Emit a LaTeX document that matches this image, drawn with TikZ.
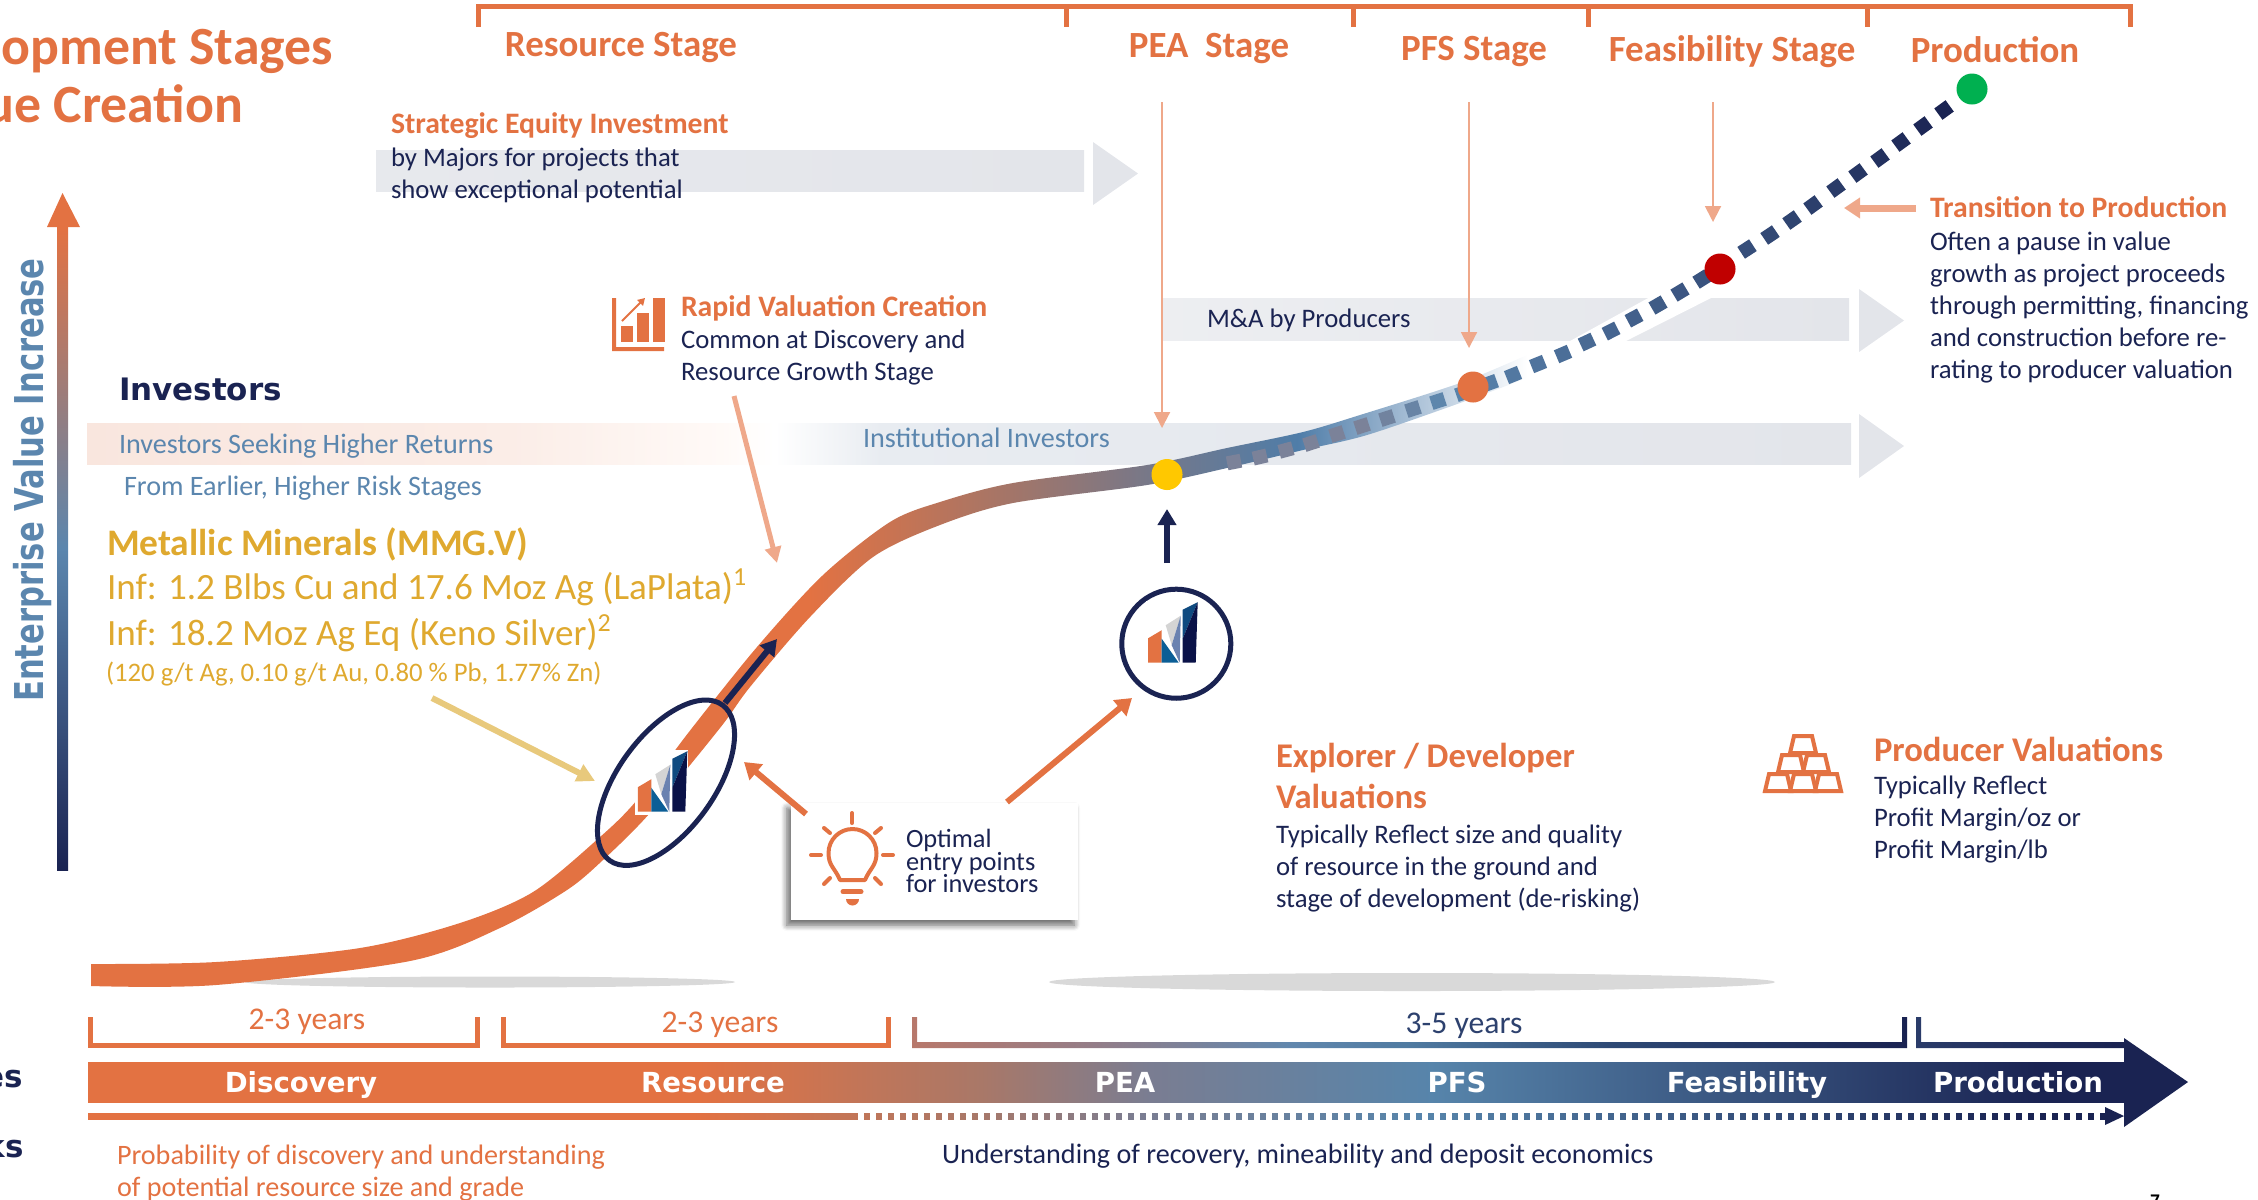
\documentclass[tikz,border=0pt]{standalone}
\usepackage{fontspec}
\setmainfont{Carlito}
\newfontfamily\widefont{DejaVu Sans}
\usetikzlibrary{arrows.meta,shapes.geometric,shadows.blur}
\definecolor{oreorange}{HTML}{E37242}
\definecolor{orepale}{HTML}{EFA88A}
\definecolor{oregold}{HTML}{DFA92F}
\definecolor{goldpale}{HTML}{E8C97C}
\definecolor{navyink}{HTML}{1A2352}
\definecolor{steelink}{HTML}{5B86AE}
\definecolor{bandgrey}{HTML}{E3E5EA}
\definecolor{dashgrey}{HTML}{7B8299}
\definecolor{peagold}{HTML}{FFC800}
\definecolor{feasred}{HTML}{C00000}
\definecolor{prodgreen}{HTML}{00B050}
\definecolor{logoblue}{HTML}{0B5E96}
\definecolor{logomid}{HTML}{6A82B0}
\definecolor{logotop}{HTML}{0F4A80}
\definecolor{logonavy}{HTML}{0A1248}
\newcommand{\tightlines}{\lineskiplimit=-6pt\relax}
\pgfdeclarehorizontalshading{curvefade}{100bp}{color(0bp)=(oreorange); color(50bp)=(oreorange); rgb(57bp)=(0.64,0.46,0.41); rgb(62bp)=(0.46,0.47,0.54); rgb(67bp)=(0.31,0.49,0.66); rgb(71bp)=(0.66,0.75,0.84); color(75bp)=(white); color(100bp)=(white)}
\pgfdeclarehorizontalshading{barfade}{100bp}{color(0bp)=(oreorange); color(40bp)=(oreorange); rgb(47bp)=(0.66,0.47,0.41); rgb(51bp)=(0.48,0.49,0.57); rgb(58bp)=(0.34,0.52,0.67); color(73bp)=(navyink); color(100bp)=(navyink)}
\pgfdeclarehorizontalshading{yearsfade}{100bp}{rgb(0bp)=(0.72,0.47,0.42); rgb(25bp)=(0.72,0.47,0.42); rgb(34bp)=(0.58,0.49,0.53); rgb(44bp)=(0.38,0.53,0.68); rgb(50bp)=(0.31,0.48,0.63); rgb(60bp)=(0.18,0.29,0.46); color(75bp)=(navyink); color(100bp)=(navyink)}
\pgfdeclarehorizontalshading{seekfade}{100bp}{rgb(0bp)=(0.976,0.902,0.871); rgb(25bp)=(0.976,0.902,0.871); rgb(37bp)=(0.984,0.929,0.906); rgb(43bp)=(1,0.98,0.97); color(44.5bp)=(white); rgb(47.5bp)=(0.91,0.925,0.945); color(75bp)=(bandgrey); color(100bp)=(bandgrey)}
\tikzset{
  txt/.style={inner sep=0pt, outer sep=0pt, anchor=west, align=left},
  bodytext/.style={txt, text=navyink, font=\fontsize{7.6}{9.1}\selectfont},
  softtext/.style={txt, font=\fontsize{8}{9.1}\selectfont},
  headtext/.style={txt, text=oreorange, font=\fontsize{8.45}{9.1}\bfseries\selectfont},
  stagetext/.style={txt, anchor=center, text=oreorange, font=\fontsize{10.5}{12}\bfseries\selectfont},
  valuetext/.style={txt, text=oreorange, font=\fontsize{9.85}{11.6}\bfseries\selectfont},
  goldtext/.style={txt, text=oregold, font=\fontsize{10.55}{12}\selectfont},
  bartext/.style={txt, anchor=base, text=white, font=\fontsize{7.85}{9}\widefont\bfseries\selectfont},
  yearstext/.style={txt, anchor=center, font=\fontsize{9}{11}\selectfont},
  stagedot/.style={circle, minimum size=0.31cm, inner sep=0pt},
  ptr/.style={draw=orepale, line width=0.02cm, -{Triangle[length=0.16cm,width=0.16cm]}},
  thickptr/.style={draw=oreorange, line width=0.06cm, -{Triangle[length=0.16cm,width=0.2cm]}},
  navyptr/.style={draw=navyink, line width=0.06cm, -{Triangle[length=0.16cm,width=0.18cm]}},
  mmglogo/.pic={
    \fill[white] (-27,-32) rectangle (26,33);
    \fill[oreorange] (-24.5,5.5) -- (-11,-2.5) -- (-11,30) -- (-24.5,30) -- cycle;
    \fill[black!17] (-7,-7.5) -- (8,-17) -- (-1,12.5) -- cycle;
    \fill[logoblue] (-11,6) -- (-11,30) -- (6,30) -- cycle;
    \fill[logomid] (8,-17) -- (7,30) -- (-1,12.5) -- cycle;
    \fill[logotop] (10,-23) -- (25,-30.5) -- (10,6) -- cycle;
    \fill[logonavy] (25,-30.5) -- (23,30) -- (10,30) -- (10,6) -- cycle;
  }
}
\begin{document}
\begin{tikzpicture}[x=0.01cm, y=-0.01cm]
  \useasboundingbox (0,0) rectangle (2258,1199);
  \clip (0,0) rectangle (2258,1199);

  % stages along the top
  \draw[oreorange, line width=0.05cm] (478,27) -- (478,6.5) -- (2130,6.5) -- (2130,27);
  \foreach \tx in {1066,1353,1588,1867}{
    \draw[oreorange, line width=0.05cm] (\tx,6.5) -- (\tx,27);
  }
  \node[stagetext] (resourcestage) at (621,48) {Resource Stage};
  \node[stagetext] (peastage) at (1209,49) {PEA\ \ Stage};
  \node[stagetext] (pfsstage) at (1474,52) {PFS Stage};
  \node[stagetext] (feasstage) at (1732,52) {Feasibility Stage};
  \node[stagetext] (prodstage) at (1995,50) {Production};

  \node[txt, anchor=east, text=oreorange, font=\fontsize{15.3}{17}\bfseries\selectfont] (titlea) at (333,51) {opment Stages};
  \node[txt, anchor=east, text=oreorange, font=\fontsize{15.3}{17}\bfseries\selectfont] (titleb) at (243,104) {ue Creation};

  % bands
  \shade[left color=bandgrey!85!white, right color=bandgrey] (376,150) rectangle (1084,191);
  \fill[bandgrey] (1093,142) -- (1138,173.5) -- (1093,205) -- cycle;
  \shade[left color=bandgrey!65!white, right color=bandgrey] (1162,298) rectangle (1849,340);
  \fill[bandgrey] (1859,289) -- (1904,320.5) -- (1859,352) -- cycle;
  \shade[shading=seekfade] (87,423) rectangle (1851,464);
  \fill[bandgrey] (1859,414) -- (1904,446) -- (1859,478) -- cycle;
  \fill[white] (1570,341) -- (1626,341) -- (1713,297) -- (1650,297) -- cycle;

  \fill[black!15] (490,982) ellipse [x radius=245, y radius=5.5];
  \fill[black!15] (1412,982) ellipse [x radius=363, y radius=9];

  % value curve
  \shade[shading=curvefade] plot[smooth] coordinates {(91,964) (216,962) (360,948) (460,923) (533,892) (600,837) (637,800) (692,728) (757,647) (823,575) (890,522) (940,502) (1013,483) (1147,465) (1227,448) (1303,432) (1360,415) (1460,383) (1527,355)}
    -- plot[smooth] coordinates {(1527,378) (1460,403) (1367,435) (1303,450) (1227,468) (1147,485) (1013,503) (940,525) (873,557) (810,617) (750,687) (720,728) (650,813) (603,860) (567,890) (500,928) (410,961) (216,985) (91,986)} -- cycle;
  \foreach \dx/\dy/\da [count=\n] in {1234/462/11,1260/457/13,1286/450/15,1311/443/18,1337/434/18,1362/426/18,1387/418/18,1413/409/18,1438/401/18,1463/393/19,1490/383/20,1513/375/22,1538/364/22,1563/354/23,1587/342/25,1611/331/27,1634/318/28,1658/305/30,1680/292/31,1702/279/32,1747/249/33,1770/235/34,1792/220/35,1813/205/36,1836/188/36,1858/173/36,1880/158/36,1901/142/36,1923/126/36,1944/110/36}{
    \pgfmathtruncatemacro{\mixa}{max(0,min(100,(\n-6)*30))}
    \pgfmathtruncatemacro{\mixb}{max(0,(\n-9)*4.8)}
    \colorlet{dashtone}{steelink!\mixa!dashgrey}
    \colorlet{dashtone}{navyink!\mixb!dashtone}
    \fill[dashtone, rotate around={\da:(\dx,\dy)}] (\dx-7,\dy-7) rectangle (\dx+7,\dy+7);
  }

  \node[stagedot, fill=peagold] (peadot) at (1167,474.5) {};
  \node[stagedot, fill=oreorange] (pfsdot) at (1473,387) {};
  \node[stagedot, fill=feasred] (feasdot) at (1720,269) {};
  \node[stagedot, fill=prodgreen] (proddot) at (1972,89) {};

  % pointers
  \coordinate (peatop) at (1162,102);
  \coordinate (peaend) at (1162,428);
  \coordinate (pfstop) at (1469,102);
  \coordinate (pfsend) at (1469,348);
  \coordinate (feastop) at (1713,102);
  \coordinate (feasend) at (1713,222);
  \draw[ptr] (peatop) -- (peaend);
  \draw[ptr] (pfstop) -- (pfsend);
  \draw[ptr] (feastop) -- (feasend);
  \coordinate (transtail) at (1916,208);
  \coordinate (transtip) at (1844,208);
  \draw[draw=orepale, line width=0.07cm, -{Triangle[length=0.16cm,width=0.2cm]}] (transtail) -- (transtip);
  \coordinate (rapidtail) at (734,396);
  \coordinate (rapidtip) at (777,563);
  \draw[draw=orepale, line width=0.05cm, -{Triangle[length=0.16cm,width=0.16cm]}] (rapidtail) -- (rapidtip);
  \coordinate (goldtail) at (432,698);
  \coordinate (goldtip) at (595,781);
  \draw[draw=goldpale, line width=0.06cm, -{Triangle[length=0.18cm,width=0.18cm]}] (goldtail) -- (goldtip);

  % left axis
  \shade[top color=oreorange, bottom color=navyink, middle color=steelink] (57,227) rectangle (68,870);
  \fill[oreorange] (47,227) -- (62.5,193) -- (80,227) -- cycle;
  \node[txt, anchor=center, rotate=90, text=steelink, font=\fontsize{11.3}{12}\widefont\bfseries\selectfont] (valueaxis) at (33,480) {\scalebox{0.77}[1]{Enterprise Value Increase}};

  % text blocks
  \node[headtext] (strategichead) at (391,126) {Strategic Equity Investment};
  \node[bodytext] (strategicbody) at (391,175.5) {by Majors for projects that\\show exceptional potential};
  \node[headtext] (rapidhead) at (681,308) {Rapid Valuation Creation};
  \node[bodytext] (rapidbody) at (681,357.5) {Common at Discovery and\\Resource Growth Stage};
  \node[txt, text=navyink, font=\fontsize{8.8}{10}\widefont\bfseries\selectfont] (investors) at (119,389) {Investors};
  \node[softtext, text=steelink] (seekers) at (119,446) {Investors Seeking Higher Returns};
  \node[softtext, text=steelink] (earlier) at (124,488) {From Earlier, Higher Risk Stages};
  \node[softtext, text=steelink] (institutional) at (863,438) {Institutional Investors};
  \node[bodytext] (producers) at (1207,320) {M\&A by Producers};
  \node[goldtext, font=\fontsize{10.65}{12}\bfseries\selectfont] (minerals) at (107,544) {Metallic Minerals (MMG.V)};
  \node[goldtext] (laplata) at (107,587.5) {Inf: 1.2 Blbs Cu and 17.6 Moz Ag (LaPlata)\textsuperscript{1}};
  \node[goldtext] (keno) at (107,633.5) {Inf: 18.2 Moz Ag Eq (Keno Silver)\textsuperscript{2}};
  \node[goldtext, font=\fontsize{7.6}{9}\selectfont] (grades) at (106,674) {(120 g/t Ag, 0.10 g/t Au, 0.80 \% Pb, 1.77\% Zn)};
  \node[headtext] (transhead) at (1930,207) {Transition to Production};
  \node[bodytext] (transbody) at (1930,307.5) {Often a pause in value\\growth as project proceeds\\through permitting, financing\\and construction before re-\\rating to producer valuation};
  \node[valuetext] (explorerhead) at (1276,776) {Explorer / Developer\\Valuations};
  \node[bodytext] (explorerbody) at (1276,868) {Typically Reflect size and quality\\of resource in the ground and\\stage of development (de-risking)};
  \node[valuetext] (producerhead) at (1874,749) {Producer Valuations};
  \node[bodytext] (producerbody) at (1874,819) {Typically Reflect\\Profit Margin/oz or\\Profit Margin/lb};

  % chart icon
  \fill[oreorange] (612,298) -- (616,298) -- (616,347) -- (664,347) -- (664,351) -- (612,351) -- cycle;
  \fill[oreorange] (621,326) rectangle (633,342);
  \fill[oreorange] (637,313) rectangle (649,342);
  \fill[oreorange] (653,298) rectangle (665,342);
  \draw[oreorange, line width=0.02cm, -{Triangle[length=0.07cm,width=0.08cm]}] (622,321) -- (645,298);

  % gold bars
  \foreach \bx/\by in {1778/782,1803/782,1828/782,1791/763,1816/763,1803/744}{
    \draw[oreorange, line width=0.04cm, line join=miter] (\bx-13,\by+9) -- (\bx-9,\by-8) -- (\bx+9,\by-8) -- (\bx+13,\by+9) -- cycle;
  }

  % entry points
  \pic at (662.3,781.7) {mmglogo};
  \node[draw=navyink, line width=0.05cm, ellipse, minimum width=1.92cm, minimum height=0.96cm, inner sep=0pt, rotate=54] (entryring) at (666,782.7) {};
  \node[draw=navyink, line width=0.05cm, circle, minimum size=1.09cm, inner sep=0pt] (entrycircle) at (1176.3,643.7) {};
  \pic at (1172.7,632.7) {mmglogo};
  \coordinate (ringexit) at (725,703);
  \coordinate (ringtip) at (777,639);
  \draw[navyptr] (ringexit) -- (ringtip);
  \coordinate (circleexit) at (1167,563);
  \coordinate (circletip) at (1167,509);
  \draw[navyptr] (circleexit) -- (circletip);

  \node[fill=white, minimum width=2.87cm, minimum height=1.17cm, inner sep=0pt, blur shadow={shadow xshift=-0.04cm, shadow yshift=-0.05cm, shadow blur steps=6, shadow blur radius=0.06cm, shadow opacity=60}] (entrybox) at (934.5,861.5) {};
  \coordinate (boxleft) at (806,814);
  \coordinate (boxright) at (1007,802);
  \coordinate (lefttip) at (744,762);
  \coordinate (righttip) at (1132,698);
  \draw[thickptr] (boxleft) -- (lefttip);
  \draw[thickptr] (boxright) -- (righttip);
  \draw[oreorange, line width=0.04cm, line join=round] (840,880) .. controls (835,868) and (828.5,866) .. (828.5,853) arc[start angle=180, end angle=360, radius=24] .. controls (876.5,866) and (870,868) .. (865,880) -- cycle;
  \draw[oreorange, line width=0.05cm, line cap=round] (843,891.7) -- (861,891.7);
  \fill[oreorange] (846,899) -- (859,899) arc[start angle=0, end angle=180, radius=6.5] -- cycle;
  \foreach \ax/\ay/\bx/\by in {852/813/852/823,824/828/830/833,881/828/875/833,811/855/821/855,883/855/893/855,824/884/830/878,881/884/875/878}{
    \draw[oreorange, line width=0.04cm, line cap=round] (\ax,\ay) -- (\bx,\by);
  }
  \node[txt, text=navyink, font=\fontsize{7.5}{6.3}\selectfont\tightlines] (entrytext) at (906,861) {Optimal\\entry points\\for investors};

  % duration brackets
  \draw[oreorange, line width=0.05cm] (90.5,1017) -- (90.5,1045) -- (477,1045) -- (477,1017);
  \draw[oreorange, line width=0.05cm] (503,1017) -- (503,1045) -- (888,1045) -- (888,1017);
  \shade[shading=yearsfade] (912,1017) -- (917,1017) -- (917,1042) -- (1902,1042) -- (1902,1017) -- (1907,1017) -- (1907,1048) -- (912,1048) -- cycle;
  \shade[left color=navyink!75!steelink, right color=navyink] (1916,1017) -- (1921,1017) -- (1921,1042) -- (2124,1042) -- (2124,1048) -- (1916,1048) -- cycle;
  \node[yearstext, text=oreorange] (yearsa) at (307,1022) {2-3 years};
  \node[yearstext, text=oreorange] (yearsb) at (720,1025) {2-3 years};
  \node[yearstext, text=navyink!70!steelink] (yearsc) at (1464,1026) {3-5 years};

  % stage bar
  \shade[shading=barfade] (88,1062) rectangle (2124,1102.5);
  \shade[shading=barfade] (88,1113) rectangle (2105,1119);
  \foreach \gx in {858,870,...,2098}{
    \fill[white] (\gx,1112) rectangle (\gx+6,1120);
  }
  \fill[navyink] (2105,1107) -- (2124,1116) -- (2105,1125) -- cycle;
  \fill[navyink] (2124,1038) -- (2188,1082) -- (2124,1127) -- cycle;
  \node[bartext] (discovery) at (301,1092) {Discovery};
  \node[bartext] (resource) at (713,1092) {Resource};
  \node[bartext] (pea) at (1125,1092) {PEA};
  \node[bartext] (pfs) at (1457,1092) {PFS};
  \node[bartext] (feasibility) at (1747,1092) {Feasibility};
  \node[bartext] (production) at (2018,1092) {Production};
  \node[txt, anchor=east, text=navyink, font=\fontsize{8.8}{10}\widefont\bfseries\selectfont] (cuta) at (23,1079) {es};
  \node[txt, anchor=east, text=navyink, font=\fontsize{8.8}{10}\widefont\bfseries\selectfont] (cutb) at (24,1146) {ks};
  \node[softtext, text=oreorange] (probability) at (117,1173) {Probability of discovery and understanding\\of potential resource size and grade};
  \node[softtext, text=navyink] (understanding) at (942,1156) {Understanding of recovery, mineability and deposit economics};
  \node[txt, anchor=center, text=black, font=\fontsize{5.5}{7}\bfseries\selectfont] (pagenum) at (2155,1201) {7};
\end{tikzpicture}
\end{document}
